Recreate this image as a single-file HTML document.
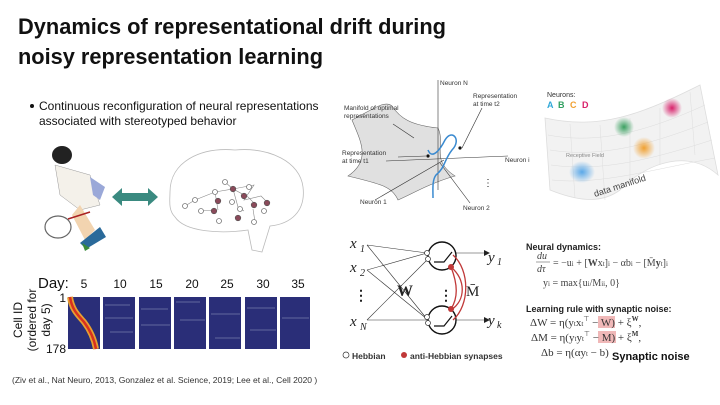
<!DOCTYPE html>
<html><head><meta charset="utf-8"><style>
body{margin:0;width:720px;height:405px;background:#fff;overflow:hidden;font-family:"Liberation Sans",sans-serif}
svg{position:absolute;left:0;top:0}
</style></head><body>
<svg width="720" height="405" viewBox="0 0 720 405" font-family="Liberation Sans, sans-serif">
<defs>
<radialGradient id="gb"><stop offset="0" stop-color="#5aa8e8"/><stop offset="1" stop-color="#5aa8e8" stop-opacity="0"/></radialGradient>
<radialGradient id="gg"><stop offset="0" stop-color="#3aa060"/><stop offset="1" stop-color="#3aa060" stop-opacity="0"/></radialGradient>
<radialGradient id="go"><stop offset="0" stop-color="#f0a030"/><stop offset="1" stop-color="#f0a030" stop-opacity="0"/></radialGradient>
<radialGradient id="gp"><stop offset="0" stop-color="#d8206a"/><stop offset="1" stop-color="#d8206a" stop-opacity="0"/></radialGradient>
</defs>
<text x="18" y="34" font-size="22" font-weight="bold" fill="#111" textLength="428" lengthAdjust="spacingAndGlyphs">Dynamics of representational drift during</text>
<text x="18" y="64" font-size="22" font-weight="bold" fill="#111" textLength="305" lengthAdjust="spacingAndGlyphs">noisy representation learning</text>
<circle cx="32" cy="106" r="2" fill="#111"/>
<text x="39" y="110" font-size="12" fill="#111">Continuous reconfiguration of neural representations</text>
<text x="39" y="125" font-size="12" fill="#111">associated with stereotyped behavior</text>
<!-- tennis player -->
<ellipse cx="62" cy="155" rx="10" ry="9" fill="#222"/>
<path d="M55 165 L90 175 L100 205 L80 210 L60 195Z" fill="#f4f1ea" stroke="#999" stroke-width="0.5"/>
<path d="M90 177 L105 187 L100 200 L93 195Z" fill="#9aa8d8"/>
<path d="M80 205 L95 230 L85 240 L72 215Z" fill="#f2d4b0"/>
<ellipse cx="58" cy="227" rx="13" ry="11" fill="none" stroke="#666" stroke-width="1.2"/>
<line x1="68" y1="219" x2="90" y2="212" stroke="#a22" stroke-width="1.5"/>
<path d="M80 243 L100 227 L106 237 L86 249Z" fill="#2a6a9a"/>
<path d="M82 243 L90 248 L85 251Z" fill="#3a8a3a"/>
<!-- arrow -->
<path d="M112 197 L122 188 L122 193 L148 193 L148 188 L158 197 L148 206 L148 201 L122 201 L122 206Z" fill="#3a8a80"/>
<g transform="translate(0,12)">
<!-- brain -->
<path d="M170 180 C170 150 200 135 235 138 C270 135 300 150 303 175 C306 200 290 212 270 214 L262 240 L252 238 L248 218 C220 222 185 220 175 205 C168 198 170 188 170 180Z" fill="none" stroke="#bbb" stroke-width="0.8"/>
<g stroke="#888" stroke-width="0.6" fill="none">
<polyline points="185,194 195,188 215,180 233,177 248,185 256,193"/>
<polyline points="225,170 233,177 238,195 244,199"/>
<polyline points="215,180 218,198"/><polyline points="233,177 254,173 244,188 261,184 268,191"/>
<polyline points="201,199 214,198"/><polyline points="253,197 255,210"/>
</g>
<g fill="#fff" stroke="#777" stroke-width="0.8">
<circle cx="185" cy="194" r="2.5"/><circle cx="195" cy="188" r="2.5"/><circle cx="215" cy="180" r="2.5"/><circle cx="225" cy="170" r="2.5"/><circle cx="249" cy="175" r="2.5"/><circle cx="232" cy="190" r="2.5"/><circle cx="201" cy="199" r="2.5"/><circle cx="219" cy="209" r="2.5"/><circle cx="240" cy="197" r="2.5"/><circle cx="264" cy="199" r="2.5"/><circle cx="254" cy="210" r="2.5"/>
</g>
<g fill="#8a4a5a" stroke="#555" stroke-width="0.6">
<circle cx="233" cy="177" r="2.8"/><circle cx="218" cy="189" r="2.8"/><circle cx="244" cy="184" r="2.8"/><circle cx="254" cy="193" r="2.8"/><circle cx="267" cy="191" r="2.8"/><circle cx="238" cy="206" r="2.8"/><circle cx="214" cy="199" r="2.8"/>
</g>
</g>
<!-- heatmaps -->
<text x="38" y="288" font-size="15" fill="#111">Day:</text>
<g font-size="12" fill="#111" text-anchor="middle">
<text x="84" y="288">5</text><text x="120" y="288">10</text><text x="156" y="288">15</text><text x="192" y="288">20</text><text x="227" y="288">25</text><text x="263" y="288">30</text><text x="298" y="288">35</text>
</g>
<text x="66" y="302" font-size="12" text-anchor="end" fill="#111">1</text>
<text x="66" y="353" font-size="12" text-anchor="end" fill="#111">178</text>
<text transform="translate(22,320) rotate(-90)" font-size="12" text-anchor="middle" fill="#111">Cell ID</text>
<text transform="translate(36,320) rotate(-90)" font-size="12" text-anchor="middle" fill="#111">(ordered for</text>
<text transform="translate(50,320) rotate(-90)" font-size="12" text-anchor="middle" fill="#111">day 5)</text>
<g fill="#2a2e78">
<rect x="68" y="297" width="32" height="52"/><rect x="103" y="297" width="32" height="52"/><rect x="139" y="297" width="32" height="52"/><rect x="174" y="297" width="32" height="52"/><rect x="209" y="297" width="32" height="52"/><rect x="245" y="297" width="32" height="52"/><rect x="280" y="297" width="30" height="52"/>
</g>
<path d="M70 297 C72 310 78 315 84 322 C90 330 94 338 96 349" stroke="#e8a030" stroke-width="6" fill="none"/>
<path d="M70 297 C72 310 78 315 84 322 C90 330 94 338 96 349" stroke="#d83020" stroke-width="2.5" fill="none"/>
<g stroke="#8890b8" stroke-width="0.7" opacity="0.8">
<line x1="105" y1="305" x2="130" y2="305"/><line x1="105" y1="318" x2="133" y2="318"/><line x1="110" y1="332" x2="133" y2="332"/><line x1="141" y1="309" x2="168" y2="309"/><line x1="141" y1="325" x2="170" y2="325"/><line x1="176" y1="302" x2="200" y2="302"/><line x1="180" y1="320" x2="205" y2="320"/><line x1="211" y1="314" x2="240" y2="314"/><line x1="215" y1="338" x2="240" y2="338"/><line x1="247" y1="308" x2="275" y2="308"/><line x1="250" y1="330" x2="276" y2="330"/><line x1="282" y1="318" x2="309" y2="318"/>
</g>
<text x="12" y="383" font-size="8.5" fill="#333">(Ziv et al., Nat Neuro, 2013, Gonzalez et al. Science, 2019; Lee et al., Cell 2020 )</text>
<!-- manifold -->
<path d="M352 120 C375 108 385 100 392 106 C400 118 410 125 438 128 C446 145 430 160 455 176 C430 183 410 195 398 200 C392 186 380 184 348 176 C372 160 360 140 352 120Z" fill="#e0e0e0" stroke="#666" stroke-width="0.6"/>
<g stroke="#333" stroke-width="0.6" fill="none">
<line x1="438" y1="80" x2="438" y2="190"/>
<line x1="386" y1="161" x2="508" y2="156"/>
<line x1="375" y1="200" x2="444" y2="160"/>
<line x1="440" y1="163" x2="470" y2="203"/>
<line x1="393" y1="124" x2="414" y2="138"/>
<line x1="462" y1="148" x2="482" y2="108"/>
<line x1="398" y1="157" x2="426" y2="156"/>
</g>
<path d="M428 150 C432 160 440 150 445 140 C452 128 462 140 452 150 C444 160 445 168 436 175 C432 180 433 190 433 198" stroke="#3a8ad0" stroke-width="1.5" fill="none"/>
<circle cx="428" cy="156" r="1.6" fill="#111"/><circle cx="460" cy="148" r="1.6" fill="#111"/>
<g font-size="6.5" fill="#333">
<text x="440" y="85">Neuron N</text>
<text x="473" y="98">Representation</text><text x="473" y="106">at time t2</text>
<text x="344" y="110">Manifold of optimal</text><text x="344" y="118">representations</text>
<text x="342" y="155">Representation</text><text x="342" y="163">at time t1</text>
<text x="505" y="162">Neuron i</text>
<text x="360" y="204">Neuron 1</text><text x="463" y="210">Neuron 2</text>
</g>
<text x="483" y="186" font-size="10" fill="#222">⋮</text>
<!-- data manifold -->
<path d="M545 118 C600 130 640 115 700 85 L718 175 C690 150 650 160 620 190 C600 205 575 200 550 190Z" fill="#f2f2f2" stroke="#ddd" stroke-width="0.8"/>
<g stroke="#ddd" stroke-width="0.5" fill="none">
<path d="M548 135 C600 145 650 130 705 105"/><path d="M550 150 C600 158 650 145 708 122"/><path d="M551 165 C600 172 650 160 712 140"/><path d="M552 180 C600 185 650 170 715 158"/>
<line x1="570" y1="124" x2="575" y2="198"/><line x1="600" y1="125" x2="605" y2="200"/><line x1="630" y1="118" x2="630" y2="185"/><line x1="660" y1="108" x2="660" y2="165"/><line x1="690" y1="92" x2="695" y2="155"/>
</g>
<ellipse cx="582" cy="172" rx="13" ry="11" fill="url(#gb)"/>
<ellipse cx="624" cy="127" rx="10" ry="10" fill="url(#gg)"/>
<ellipse cx="644" cy="148" rx="11" ry="11" fill="url(#go)"/>
<ellipse cx="672" cy="108" rx="10" ry="10" fill="url(#gp)"/>
<text x="566" y="157" font-size="5.5" fill="#888">Receptive Field</text>
<text transform="translate(595,197) rotate(-18)" font-size="9" fill="#444">data manifold</text>
<text x="547" y="97" font-size="7" fill="#333">Neurons:</text>
<g font-size="9" font-weight="bold"><text x="547" y="108" fill="#30a8d8">A</text><text x="558" y="108" fill="#30a060">B</text><text x="570" y="108" fill="#f0a030">C</text><text x="582" y="108" fill="#d8206a">D</text></g>
<!-- network -->
<g font-family="Liberation Serif, serif" font-style="italic" font-size="15" fill="#222">
<text x="350" y="248">x</text><text x="360" y="252" font-size="10">1</text>
<text x="350" y="272">x</text><text x="360" y="276" font-size="10">2</text>
<text x="350" y="326">x</text><text x="360" y="330" font-size="10" font-style="italic">N</text>
<text x="488" y="262">y</text><text x="497" y="265" font-size="10">1</text>
<text x="488" y="325">y</text><text x="497" y="328" font-size="10">k</text>
</g>
<text x="397" y="296" font-family="Liberation Serif, serif" font-size="16" font-weight="bold" fill="#222">W</text>
<text x="466" y="296" font-family="Liberation Serif, serif" font-size="15" fill="#222">M̄</text>
<g font-size="14" font-weight="bold" fill="#222"><text x="354" y="300">⋮</text><text x="439" y="300">⋮</text></g>
<g stroke="#333" stroke-width="0.6">
<line x1="367" y1="245" x2="427" y2="253"/><line x1="367" y1="245" x2="427" y2="319"/>
<line x1="367" y1="270" x2="427" y2="253"/><line x1="367" y1="270" x2="427" y2="319"/>
<line x1="367" y1="320" x2="427" y2="260"/><line x1="367" y1="320" x2="427" y2="320"/>
<line x1="456" y1="253" x2="484" y2="253"/><line x1="456" y1="320" x2="484" y2="320"/>
</g>
<path d="M484 250 L490 253 L484 256Z" fill="#222"/><path d="M484 317 L490 320 L484 323Z" fill="#222"/>
<g stroke="#111" stroke-width="1.4" fill="#fff"><circle cx="442" cy="256" r="14"/><circle cx="442" cy="320" r="14"/></g>
<path d="M434 262 L444 262 L452 252 M434 326 L444 326 L452 316" stroke="#111" stroke-width="1.2" fill="none"/>
<g fill="#fff" stroke="#333" stroke-width="0.7"><circle cx="427" cy="253" r="2.5"/><circle cx="428" cy="259" r="2.5"/><circle cx="427" cy="317" r="2.5"/><circle cx="428" cy="323" r="2.5"/></g>
<path d="M451 267 C466 280 466 300 451 310 M451 267 C458 285 458 298 451 309 M453 255 C470 270 470 305 453 320" stroke="#c03838" stroke-width="1.3" fill="none"/>
<circle cx="451" cy="267" r="3" fill="#c03838"/><circle cx="451" cy="309" r="3" fill="#c03838"/>
<circle cx="346" cy="355" r="3" fill="#fff" stroke="#333" stroke-width="0.7"/>
<text x="352" y="359" font-size="8.5" font-weight="bold" fill="#333">Hebbian</text>
<circle cx="404" cy="355" r="3" fill="#c03838"/>
<text x="410" y="359" font-size="8.5" font-weight="bold" fill="#333">anti-Hebbian synapses</text>
<!-- equations -->
<text x="526" y="250" font-size="9" font-weight="bold" fill="#222">Neural dynamics:</text>
<g font-family="Liberation Serif, serif" font-size="10" fill="#444">
<text x="537" y="259" font-style="italic">du</text><line x1="536" y1="262" x2="550" y2="262" stroke="#444" stroke-width="0.5"/><text x="537" y="272" font-style="italic">dτ</text>
<text x="553" y="266">= −u<tspan font-size="7">i</tspan> + [<tspan font-weight="bold">W</tspan>x<tspan font-size="7">t</tspan>]<tspan font-size="7">i</tspan> − αb<tspan font-size="7">i</tspan> − [M̄<tspan font-weight="bold">y</tspan><tspan font-size="7">t</tspan>]<tspan font-size="7">i</tspan></text>
<text x="543" y="286">y<tspan font-size="7">i</tspan> = max{u<tspan font-size="7">i</tspan>/M<tspan font-size="7">ii</tspan>, 0}</text>
</g>
<text x="526" y="312" font-size="9" font-weight="bold" fill="#222">Learning rule with synaptic noise:</text>
<rect x="598" y="316" width="17" height="12" fill="#f0b8b8"/><rect x="598" y="331" width="18" height="12" fill="#f0b8b8"/>
<g font-family="Liberation Serif, serif" font-size="11" fill="#333">
<text x="530" y="326">ΔW = η(y<tspan font-size="7">t</tspan>x<tspan font-size="7">t</tspan><tspan font-size="7" dy="-5">⊤</tspan><tspan dy="5"> − W) + ξ</tspan><tspan font-size="7" dy="-5" font-weight="bold">W</tspan><tspan dy="5">,</tspan></text>
<text x="531" y="341">ΔM = η(y<tspan font-size="7">t</tspan>y<tspan font-size="7">t</tspan><tspan font-size="7" dy="-5">⊤</tspan><tspan dy="5"> − M) + ξ</tspan><tspan font-size="7" dy="-5" font-weight="bold">M</tspan><tspan dy="5">,</tspan></text>
<text x="541" y="356">Δb = η(αy<tspan font-size="7">t</tspan> − b)</text>
</g>
<text x="612" y="360" font-size="11" font-weight="bold" fill="#111">Synaptic noise</text>
</svg>
</body></html>
